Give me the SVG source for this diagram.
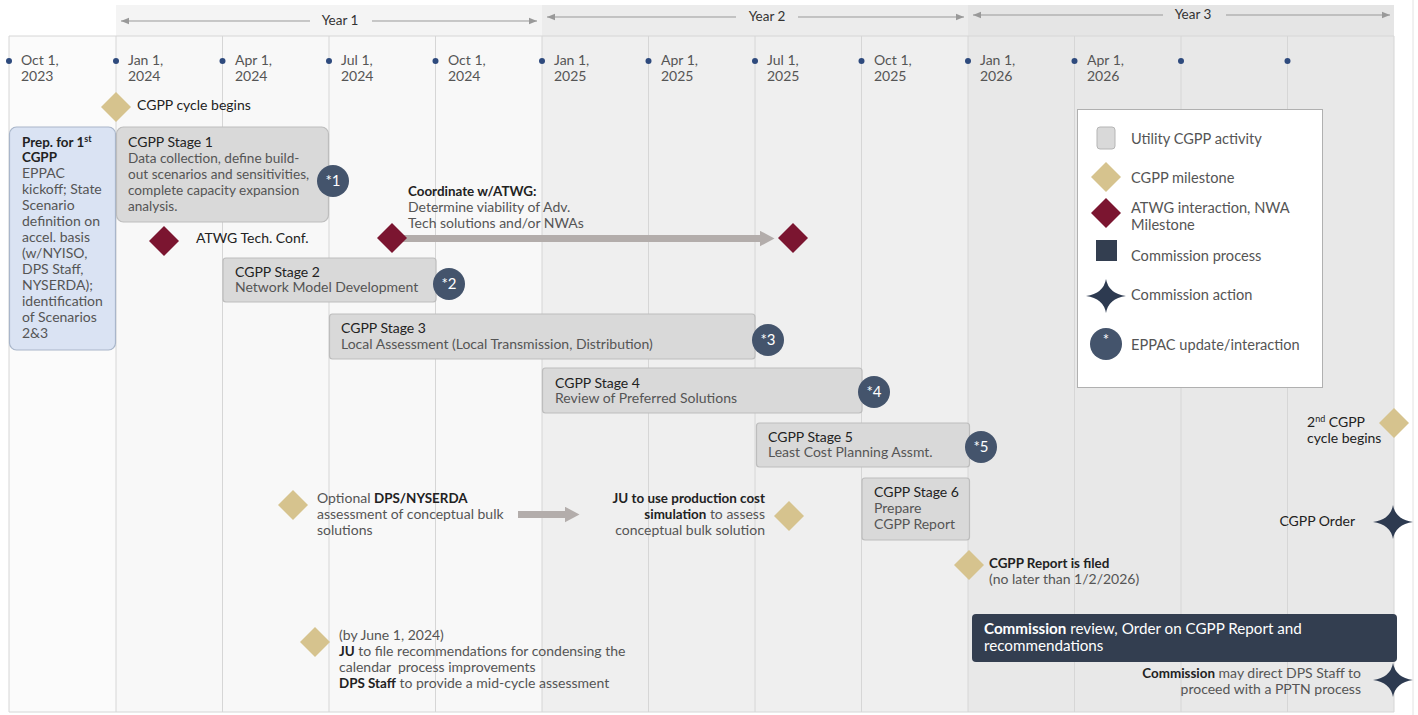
<svg xmlns="http://www.w3.org/2000/svg" xmlns:xlink="http://www.w3.org/1999/xlink" width="1418" height="715" viewBox="0 0 1418 715">
<style>
text{font-family:Lato,"Open Sans","Liberation Sans",sans-serif;font-size:14px;fill:#555}
.t{fill:#222}
.b{font-weight:bold;fill:#222;font-size:13.4px}
.grid{stroke:#d6d6d6;stroke-width:1}
.stage{fill:#d9d9d9;stroke:#bdbdbd;stroke-width:1.2}
.tan{fill:#d6c38e}
.mar{fill:#7b1530}
.eppac{fill:#44546c}
.num{fill:#fff;font-size:15px;text-anchor:middle}
.dot{fill:#2e4a7d}
.star{fill:#2d3a50}
.yr{stroke:#999;stroke-width:1}
.yrt{fill:#333;font-size:13.5px;text-anchor:middle}
.w{fill:#fff;font-size:15.2px}
.lg{font-size:14.6px}
.s1{font-size:13.6px}
</style>
<defs>
<path id="dia" d="M0,-15 L15,0 L0,15 L-15,0Z"/>
<path id="star" d="M0,-17 Q2.5,-2.5 20,0 Q2.5,2.5 0,17 Q-2.5,2.5 -20,0 Q-2.5,-2.5 0,-17Z"/>
<marker id="ya" viewBox="0 0 10 10" refX="10" refY="5" markerWidth="8" markerHeight="8" markerUnits="userSpaceOnUse" orient="auto"><path d="M0,1 L10,5 L0,9Z" fill="#999"/></marker>
<marker id="ga" viewBox="0 0 10 10" refX="1" refY="5" markerWidth="15" markerHeight="16" markerUnits="userSpaceOnUse" orient="auto" preserveAspectRatio="none"><path d="M0,0 L10,5 L0,10Z" fill="#b3adab"/></marker>
</defs>
<rect width="1418" height="715" fill="#fff"/>
<g id="background">
<rect x="9" y="36" width="107" height="676" fill="#fbfbfb"/>
<rect x="116" y="36" width="426" height="676" fill="#f8f8f8"/>
<rect x="542" y="36" width="426" height="676" fill="#efefef"/>
<rect x="968" y="36" width="426" height="676" fill="#e8e8e8"/>
<rect x="116" y="5" width="426" height="31" fill="#f4f4f4"/>
<rect x="542" y="5" width="426" height="31" fill="#ececec"/>
<rect x="968" y="5" width="426" height="31" fill="#e5e5e5"/>
<line class="grid" x1="9" y1="36" x2="1394" y2="36"/>
<line class="grid" x1="9" y1="712" x2="1394" y2="712"/>
<line class="grid" x1="9" y1="36" x2="9" y2="712"/>
<line class="grid" x1="116" y1="36" x2="116" y2="712"/>
<line class="grid" x1="222.5" y1="36" x2="222.5" y2="712"/>
<line class="grid" x1="329" y1="36" x2="329" y2="712"/>
<line class="grid" x1="435.5" y1="36" x2="435.5" y2="712"/>
<line class="grid" x1="542" y1="36" x2="542" y2="712"/>
<line class="grid" x1="648.5" y1="36" x2="648.5" y2="712"/>
<line class="grid" x1="755" y1="36" x2="755" y2="712"/>
<line class="grid" x1="861.5" y1="36" x2="861.5" y2="712"/>
<line class="grid" x1="968" y1="36" x2="968" y2="712"/>
<line class="grid" x1="1074.5" y1="36" x2="1074.5" y2="712"/>
<line class="grid" x1="1181" y1="36" x2="1181" y2="712"/>
<line class="grid" x1="1287.5" y1="36" x2="1287.5" y2="712"/>
<line class="grid" x1="1394" y1="36" x2="1394" y2="712"/>
<line x1="1413" y1="0" x2="1413" y2="715" stroke="#e2e2e2"/>
</g>
<g id="years">
<line class="yr" x1="310" y1="21" x2="121" y2="21" marker-end="url(#ya)"/>
<line class="yr" x1="372" y1="21" x2="537" y2="21" marker-end="url(#ya)"/>
<text class="yrt" x="340" y="25">Year 1</text>
<line class="yr" x1="736" y1="17" x2="547" y2="17" marker-end="url(#ya)"/>
<line class="yr" x1="798" y1="17" x2="964" y2="17" marker-end="url(#ya)"/>
<text class="yrt" x="767" y="21">Year 2</text>
<line class="yr" x1="1163" y1="15" x2="973" y2="15" marker-end="url(#ya)"/>
<line class="yr" x1="1226" y1="15" x2="1390" y2="15" marker-end="url(#ya)"/>
<text class="yrt" x="1193" y="19">Year 3</text>
</g>
<g id="dates">
<circle class="dot" cx="9" cy="61" r="3"/><text x="21" y="65">Oct 1,</text><text x="21" y="81">2023</text>
<circle class="dot" cx="116" cy="61" r="3"/><text x="128" y="65">Jan 1,</text><text x="128" y="81">2024</text>
<circle class="dot" cx="222.5" cy="61" r="3"/><text x="235" y="65">Apr 1,</text><text x="235" y="81">2024</text>
<circle class="dot" cx="329" cy="61" r="3"/><text x="341" y="65">Jul 1,</text><text x="341" y="81">2024</text>
<circle class="dot" cx="435.5" cy="61" r="3"/><text x="448" y="65">Oct 1,</text><text x="448" y="81">2024</text>
<circle class="dot" cx="542" cy="61" r="3"/><text x="554" y="65">Jan 1,</text><text x="554" y="81">2025</text>
<circle class="dot" cx="648.5" cy="61" r="3"/><text x="661" y="65">Apr 1,</text><text x="661" y="81">2025</text>
<circle class="dot" cx="755" cy="61" r="3"/><text x="767" y="65">Jul 1,</text><text x="767" y="81">2025</text>
<circle class="dot" cx="861.5" cy="61" r="3"/><text x="874" y="65">Oct 1,</text><text x="874" y="81">2025</text>
<circle class="dot" cx="968" cy="61" r="3"/><text x="980" y="65">Jan 1,</text><text x="980" y="81">2026</text>
<circle class="dot" cx="1074.5" cy="61" r="3"/><text x="1087" y="65">Apr 1,</text><text x="1087" y="81">2026</text>
<circle class="dot" cx="1181" cy="61" r="3"/>
<circle class="dot" cx="1287.5" cy="61" r="3"/>
</g>
<g id="connectors">
<line x1="400" y1="238.5" x2="761" y2="238.5" stroke="#b3adab" stroke-width="7" marker-end="url(#ga)"/>
<line x1="518" y1="514.5" x2="566" y2="514.5" stroke="#b3adab" stroke-width="7" marker-end="url(#ga)"/>
</g>
<g id="cycle-begins">
<use href="#dia" x="116" y="107" class="tan"/>
<text class="t" x="137" y="110">CGPP cycle begins</text>
</g>
<g id="prep">
<rect x="9.5" y="127" width="106" height="223" rx="7" fill="#dae3f3" stroke="#a9b6ca" stroke-width="1.2"/>
<text class="b" x="22" y="147">Prep. for 1<tspan font-size="9" dy="-5">st</tspan></text>
<text class="b" x="22" y="162">CGPP</text>
<text x="22" y="178">EPPAC</text>
<text x="22" y="194">kickoff; State</text>
<text x="22" y="210">Scenario</text>
<text x="22" y="226">definition on</text>
<text x="22" y="242">accel. basis</text>
<text x="22" y="258">(w/NYISO,</text>
<text x="22" y="274">DPS Staff,</text>
<text x="22" y="290">NYSERDA);</text>
<text x="22" y="306">identification</text>
<text x="22" y="322">of Scenarios</text>
<text x="22" y="338">2&amp;3</text>
</g>
<g id="stage1">
<rect class="stage" x="116.5" y="127" width="212" height="95" rx="7"/>
<text class="t" x="128" y="147">CGPP Stage 1</text>
<text class="s1" x="128" y="163">Data collection, define build-</text>
<text class="s1" x="128" y="179">out scenarios and sensitivities,</text>
<text class="s1" x="128" y="195">complete capacity expansion</text>
<text class="s1" x="128" y="211">analysis.</text>
<circle class="eppac" cx="333" cy="181" r="16"/><text class="num" x="333" y="186">*1</text>
</g>
<g id="atwg-conf">
<use href="#dia" x="164" y="241" class="mar"/>
<text class="t" x="196" y="243">ATWG Tech. Conf.</text>
</g>
<g id="coordinate-atwg">
<use href="#dia" x="392" y="238" class="mar"/>
<text class="b" x="408" y="196">Coordinate w/ATWG:</text>
<text x="408" y="212">Determine viability of Adv.</text>
<text x="408" y="228">Tech solutions and/or NWAs</text>
<use href="#dia" x="793" y="238" class="mar"/>
</g>
<g id="stage2">
<rect class="stage" x="223" y="258" width="213" height="44" rx="3"/>
<text class="t" x="235" y="277">CGPP Stage 2</text>
<text x="235" y="292">Network Model Development</text>
<circle class="eppac" cx="449" cy="284" r="16"/><text class="num" x="449" y="289">*2</text>
</g>
<g id="stage3">
<rect class="stage" x="329.5" y="314" width="425.5" height="45" rx="3"/>
<text class="t" x="341" y="333">CGPP Stage 3</text>
<text x="341" y="349">Local Assessment (Local Transmission, Distribution)</text>
<circle class="eppac" cx="768" cy="340" r="16"/><text class="num" x="768" y="345">*3</text>
</g>
<g id="stage4">
<rect class="stage" x="542.5" y="368" width="319.5" height="45" rx="3"/>
<text class="t" x="555" y="388">CGPP Stage 4</text>
<text x="555" y="403">Review of Preferred Solutions</text>
<circle class="eppac" cx="874" cy="392" r="16"/><text class="num" x="874" y="397">*4</text>
</g>
<g id="stage5">
<rect class="stage" x="756.5" y="423" width="213" height="44" rx="3"/>
<text class="t" x="768" y="442">CGPP Stage 5</text>
<text x="768" y="457">Least Cost Planning Assmt.</text>
<circle class="eppac" cx="981" cy="447" r="16"/><text class="num" x="981" y="452">*5</text>
</g>
<g id="stage6">
<rect class="stage" x="862" y="478" width="107.5" height="62" rx="3"/>
<text class="t" x="874" y="497">CGPP Stage 6</text>
<text x="874" y="513">Prepare</text>
<text x="874" y="529">CGPP Report</text>
</g>
<g id="optional-dps">
<use href="#dia" x="293" y="505" class="tan"/>
<text x="317" y="503">Optional <tspan class="b">DPS/NYSERDA</tspan></text>
<text x="317" y="519">assessment of conceptual bulk</text>
<text x="317" y="535">solutions</text>
</g>
<g id="ju-production">
<text x="765" y="503" text-anchor="end" class="b">JU to use production cost</text>
<text x="765" y="519" text-anchor="end"><tspan class="b">simulation</tspan> to assess</text>
<text x="765" y="535" text-anchor="end">conceptual bulk solution</text>
<use href="#dia" x="789" y="516" class="tan"/>
</g>
<g id="report-filed">
<use href="#dia" x="969" y="565" class="tan"/>
<text class="b" x="989" y="568">CGPP Report is filed</text>
<text x="989" y="584">(no later than 1/2/2026)</text>
</g>
<g id="commission-review">
<rect x="972" y="614" width="425" height="48" rx="4" fill="#333e50"/>
<text class="w" x="984" y="634"><tspan font-weight="bold" fill="#fff">Commission</tspan> review, Order on CGPP Report and</text>
<text class="w" x="984" y="651">recommendations</text>
</g>
<g id="commission-direct">
<text x="1361" y="678" text-anchor="end"><tspan class="b">Commission</tspan> may direct DPS Staff to</text>
<text x="1361" y="694" text-anchor="end">proceed with a PPTN process</text>
<use href="#star" x="1393" y="680" class="star"/>
</g>
<g id="second-cycle">
<text class="t" x="1307" y="427">2<tspan font-size="9" dy="-5">nd</tspan><tspan dy="5"> CGPP</tspan></text>
<text class="t" x="1307" y="443">cycle begins</text>
<use href="#dia" x="1394" y="423" class="tan"/>
</g>
<g id="cgpp-order">
<text class="t" x="1355" y="526" text-anchor="end">CGPP Order</text>
<use href="#star" x="1393" y="522" class="star"/>
</g>
<g id="ju-recommendations">
<use href="#dia" x="315" y="642" class="tan"/>
<text x="339" y="640">(by June 1, 2024)</text>
<text x="339" y="656"><tspan class="b">JU</tspan> to file recommendations for condensing the</text>
<text x="339" y="672" xml:space="preserve">calendar  process improvements</text>
<text x="339" y="688"><tspan class="b">DPS Staff</tspan> to provide a mid-cycle assessment</text>
</g>
<g id="legend">
<rect x="1077.5" y="109.5" width="245" height="278" fill="#fff" stroke="#b0b0b0"/>
<rect x="1097" y="127" width="18" height="22" rx="3" fill="#d9d9d9" stroke="#b5b5b5"/>
<text class="lg" x="1131" y="144">Utility CGPP activity</text>
<use href="#dia" x="1106" y="177" class="tan"/>
<text class="lg" x="1131" y="183">CGPP milestone</text>
<use href="#dia" x="1106" y="213" class="mar"/>
<text class="lg" x="1131" y="213">ATWG interaction, NWA</text>
<text class="lg" x="1131" y="230">Milestone</text>
<rect x="1096" y="240" width="21" height="21" fill="#333e50"/>
<text class="lg" x="1131" y="261">Commission process</text>
<use href="#star" x="1106" y="296" class="star"/>
<text class="lg" x="1131" y="300">Commission action</text>
<circle class="eppac" cx="1106" cy="344" r="16"/><text class="num" x="1106" y="345">*</text>
<text class="lg" x="1131" y="350">EPPAC update/interaction</text>
</g>
</svg>
